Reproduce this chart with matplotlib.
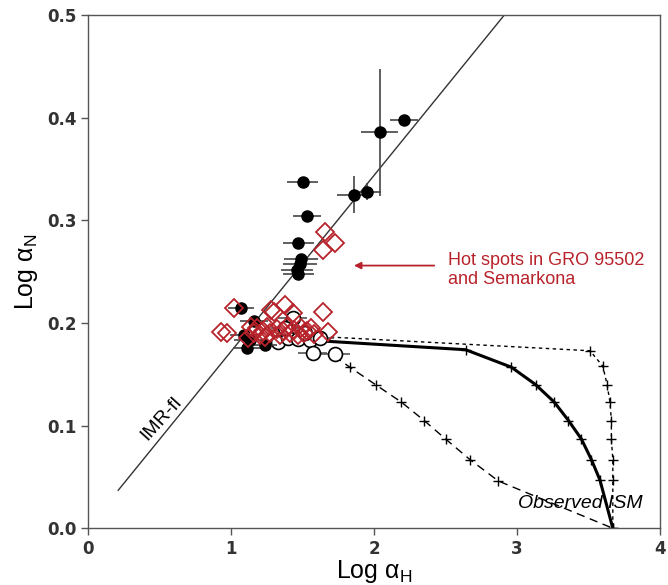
import numpy as np
import matplotlib.pyplot as plt

plt.rcParams['mathtext.fontset'] = 'custom'
plt.rcParams['mathtext.rm'] = 'Liberation Sans'

# filled dots (with error bars)
dot_x = [2.21, 2.04, 1.86, 1.95, 1.50, 1.53, 1.47, 1.49, 1.48, 1.46, 1.47,
         1.07, 1.16, 1.09, 1.11, 1.24, 1.13]
dot_y = [0.398, 0.386, 0.325, 0.328, 0.337, 0.304, 0.278, 0.262, 0.258, 0.252, 0.248,
         0.215, 0.202, 0.188, 0.176, 0.179, 0.183]
dot_xerr = [0.10, 0.13, 0.12, 0.10, 0.11, 0.10, 0.11, 0.12, 0.12, 0.11, 0.11,
            0.09, 0.10, 0.10, 0.10, 0.08, 0.11]
dot_yerr = [0.0, 0.062, 0.018, 0.008, 0.0, 0.0, 0.0, 0.0, 0.0, 0.0, 0.0,
            0.0, 0.0, 0.0, 0.0, 0.0, 0.0]

# open circles
circ_x = [1.43, 1.33, 1.40, 1.47, 1.55, 1.57, 1.73, 1.52, 1.38, 1.62]
circ_y = [0.205, 0.182, 0.185, 0.184, 0.183, 0.171, 0.170, 0.190, 0.195, 0.185]
circ_xerr = [0.1] * len(circ_x)

# red diamonds
dia_x = [0.93, 0.97, 1.02, 1.12, 1.14, 1.16, 1.18, 1.20, 1.22, 1.24, 1.25, 1.27,
         1.28, 1.30, 1.32, 1.34, 1.36, 1.38, 1.39, 1.41, 1.43, 1.44, 1.47, 1.49,
         1.51, 1.53, 1.56, 1.58, 1.64, 1.68, 1.66, 1.73, 1.64]
dia_y = [0.191, 0.190, 0.215, 0.185, 0.196, 0.190, 0.195, 0.188, 0.192, 0.186, 0.196, 0.190,
         0.213, 0.211, 0.194, 0.188, 0.192, 0.218, 0.196, 0.190, 0.210, 0.193, 0.188, 0.195,
         0.190, 0.192, 0.195, 0.189, 0.211, 0.191, 0.289, 0.278, 0.271]

# IMR-fl line
imr_x = [0.21, 2.91]
imr_y = [0.037, 0.500]

# mixing curves
solid_x = [1.58, 2.64, 2.96, 3.13, 3.26, 3.36, 3.45, 3.52, 3.58, 3.67]
solid_y = [0.183, 0.174, 0.157, 0.140, 0.123, 0.105, 0.087, 0.067, 0.047, 0.0]
dotted_x = [1.60, 3.51, 3.60, 3.63, 3.65, 3.66, 3.66, 3.67, 3.67, 3.67]
dotted_y = [0.187, 0.173, 0.158, 0.140, 0.123, 0.105, 0.087, 0.067, 0.047, 0.0]
dashed_x = [1.72, 1.83, 2.01, 2.19, 2.35, 2.50, 2.67, 2.87, 3.67]
dashed_y = [0.168, 0.157, 0.140, 0.123, 0.105, 0.087, 0.067, 0.046, 0.0]

red = '#b8232b'

fig = plt.figure(figsize=(6.68, 5.85), dpi=100)
ax = fig.add_axes([0.132, 0.097, 0.856, 0.877])

ax.plot(imr_x, imr_y, color='#333333', lw=1.0, zorder=1)

ax.plot(solid_x, solid_y, color='black', lw=2.2, zorder=2)
ax.plot(solid_x[1:], solid_y[1:], ls='none', marker='+', ms=7, mew=1, color='black', zorder=2)
ax.plot(dotted_x, dotted_y, color='black', lw=1.0, ls=(0, (2.5, 2.5)), zorder=2)
ax.plot(dotted_x[1:], dotted_y[1:], ls='none', marker='+', ms=7, mew=1, color='black', zorder=2)
ax.plot(dashed_x, dashed_y, color='black', lw=1.0, ls=(0, (6, 4)), zorder=2)
ax.plot(dashed_x[1:-1], dashed_y[1:-1], ls='none', marker='+', ms=7, mew=1, color='black', zorder=2)

ax.errorbar(circ_x, circ_y, xerr=circ_xerr, fmt='o', ms=10, mfc='white', mec='black',
            mew=1.2, ecolor='#555555', elinewidth=1.2, capsize=0, zorder=3)
ax.errorbar(dot_x, dot_y, xerr=dot_xerr, yerr=dot_yerr, fmt='o', ms=8, color='black',
            ecolor='#444444', elinewidth=1.2, capsize=0, zorder=4)
ax.plot(dia_x, dia_y, ls='none', marker='D', ms=9, mfc='none', mec=red, mew=1.3, zorder=5)

ax.annotate('', xy=(1.84, 0.256), xytext=(2.44, 0.256),
            arrowprops=dict(arrowstyle='-|>', color=red, lw=1.3, mutation_scale=10))
ax.text(2.52, 0.252, 'Hot spots in GRO 95502\nand Semarkona', color=red,
        fontsize=13, family='Liberation Sans', va='center', ha='left', linespacing=1.15)

ax.text(0.51, 0.107, 'IMR-fl', rotation=48, fontsize=14, family='Liberation Sans',
        ha='center', va='center', rotation_mode='anchor')
ax.text(3.44, 0.024, 'Observed ISM', fontsize=14, family='Liberation Sans',
        style='italic', ha='center', va='center')

ax.set_xlim(0, 4)
ax.set_ylim(0, 0.5)
ax.set_xticks([0, 1, 2, 3, 4])
ax.set_yticks([0.0, 0.1, 0.2, 0.3, 0.4, 0.5])
ax.set_yticklabels(['0.0', '0.1', '0.2', '0.3', '0.4', '0.5'])
for lab in ax.get_xticklabels() + ax.get_yticklabels():
    lab.set_fontweight('bold')
    lab.set_color('#333333')
ax.tick_params(direction='out', length=5, width=1, color='#555555', labelsize=12)
for sp in ax.spines.values():
    sp.set_color('#555555')
    sp.set_linewidth(1.0)

ax.set_xlabel(r'Log α$_{\rm H}$', fontsize=18, family='Liberation Sans', labelpad=0)
ax.set_ylabel(r'Log α$_{\rm N}$', fontsize=18, family='Liberation Sans', labelpad=5)

fig.savefig('out.png', dpi=100)
